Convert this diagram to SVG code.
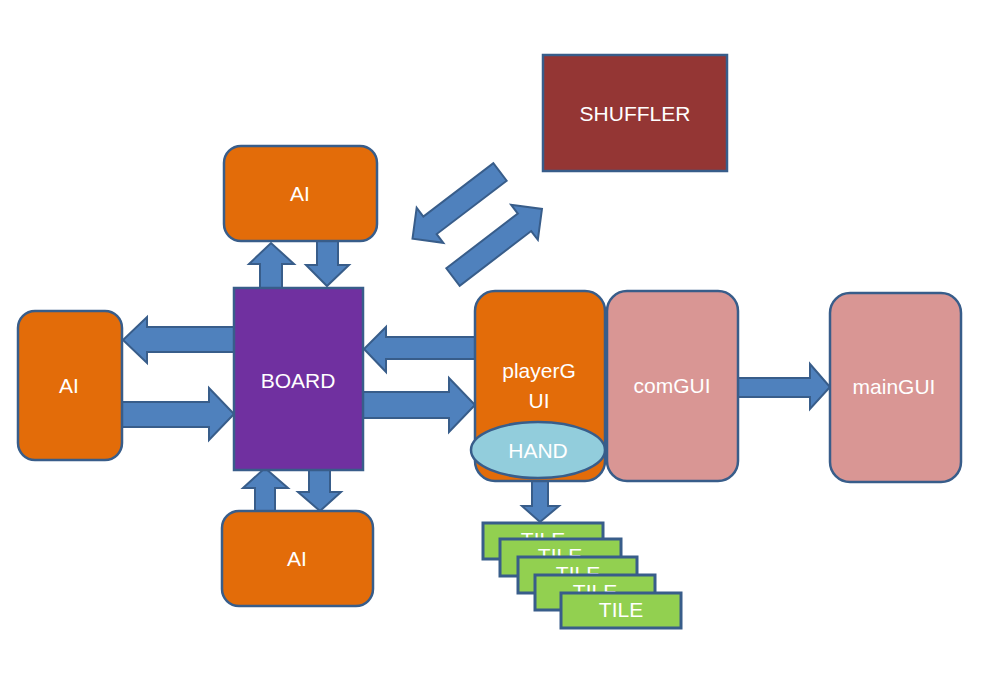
<svg xmlns="http://www.w3.org/2000/svg" width="999" height="698" viewBox="0 0 999 698">
<style>
.box{stroke:#385d8a;stroke-width:2.5}
.or{fill:#e36c09}
.pk{fill:#d99694}
.arr{fill:#4f81bd;stroke:#385d8a;stroke-width:2;stroke-linejoin:miter}
.t{font-family:"Liberation Sans",Arial,sans-serif;font-size:21px;fill:#ffffff;text-anchor:middle}
.tile{fill:#92d050;stroke:#385d8a;stroke-width:3}
</style>
<rect width="999" height="698" fill="#ffffff"/>
<g id="connectors">
  <!-- BOARD -> AI left -->
  <polygon class="arr" points="234,327 147,327 147,317 123,340 147,363 147,352 234,352"/>
  <!-- AI left -> BOARD -->
  <polygon class="arr" points="122,402 209,402 209,388 234,414 209,440 209,427 122,427"/>
  <!-- playerGUI -> BOARD -->
  <polygon class="arr" points="475,337 386,337 386,327 364,349 386,372 386,359 475,359"/>
  <!-- BOARD -> playerGUI -->
  <polygon class="arr" points="363,392 449,392 449,378 475,405 449,432 449,418 363,418"/>
  <!-- BOARD -> AI top (up) -->
  <polygon class="arr" points="260,288 260,264 249,264 271,243 294,264 282,264 282,288"/>
  <!-- AI top -> BOARD (down) -->
  <polygon class="arr" points="317,241 317,265 306,265 327,286 349,265 338,265 338,241"/>
  <!-- BOARD -> AI bottom? (up) -->
  <polygon class="arr" points="255,511 255,488 243,488 265,468 288,488 275,488 275,511"/>
  <!-- BOARD -> AI bottom (down) -->
  <polygon class="arr" points="309,470 309,492 298,492 320,511 341,492 330,492 330,470"/>
  <!-- comGUI -> mainGUI -->
  <polygon class="arr" points="738,378 810,378 810,364 830,387 810,409 810,397 738,397"/>
  <!-- HAND -> TILE -->
  <polygon class="arr" points="532,481 532,506 522,506 540,522 559,506 548,506 548,481"/>
  <!-- SHUFFLER -> BOARD (diagonal) -->
  <polygon class="arr" transform="translate(500,172) rotate(142.7)" points="0,-11 88,-11 88,-22 110,0 88,22 88,11 0,11"/>
  <!-- BOARD -> SHUFFLER (diagonal) -->
  <polygon class="arr" transform="translate(453,277) rotate(-37.4)" points="0,-11 90,-11 90,-22 112,0 90,22 90,11 0,11"/>
</g>
<g id="shuffler">
  <rect class="box" x="543" y="55" width="184" height="116" fill="#943634"/>
  <text class="t" x="635" y="121">SHUFFLER</text>
</g>
<g id="ai-top">
  <rect class="box or" x="224" y="146" width="153" height="95" rx="17"/>
  <text class="t" x="300" y="201">AI</text>
</g>
<g id="ai-left">
  <rect class="box or" x="18" y="311" width="104" height="149" rx="17"/>
  <text class="t" x="69" y="393">AI</text>
</g>
<g id="ai-bottom">
  <rect class="box or" x="222" y="511" width="151" height="95" rx="17"/>
  <text class="t" x="297" y="566">AI</text>
</g>
<g id="board">
  <rect class="box" x="234" y="288" width="129" height="182" fill="#7030a0"/>
  <text class="t" x="298" y="388">BOARD</text>
</g>
<g id="playergui">
  <rect class="box or" x="475" y="291" width="130" height="190" rx="20"/>
  <text class="t" x="539" y="378">playerG</text>
  <text class="t" x="539" y="408">UI</text>
</g>
<g id="hand">
  <ellipse class="box" cx="538" cy="450" rx="67" ry="28" fill="#92cddc"/>
  <text class="t" x="538" y="458">HAND</text>
</g>
<g id="comgui">
  <rect class="box pk" x="607" y="291" width="131" height="190" rx="20"/>
  <text class="t" x="672" y="393">comGUI</text>
</g>
<g id="maingui">
  <rect class="box pk" x="830" y="293" width="131" height="189" rx="20"/>
  <text class="t" x="894" y="394">mainGUI</text>
</g>
<g id="tile1">
  <rect class="tile" x="483" y="523" width="120" height="36"/>
  <text class="t" x="543" y="547">TILE</text>
</g>
<g id="tile2">
  <rect class="tile" x="500" y="539" width="121" height="37"/>
  <text class="t" x="560" y="563">TILE</text>
</g>
<g id="tile3">
  <rect class="tile" x="518" y="557" width="119" height="36"/>
  <text class="t" x="578" y="581">TILE</text>
</g>
<g id="tile4">
  <rect class="tile" x="535" y="575" width="120" height="35"/>
  <text class="t" x="595" y="599">TILE</text>
</g>
<g id="tile5">
  <rect class="tile" x="561" y="593" width="120" height="35"/>
  <text class="t" x="621" y="617">TILE</text>
</g>
</svg>
